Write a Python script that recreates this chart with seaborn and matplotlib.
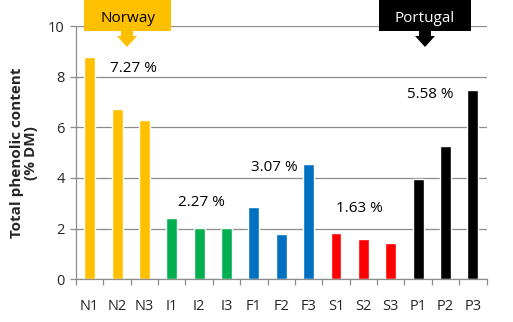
import matplotlib
matplotlib.use("Agg")
import matplotlib.pyplot as plt
import seaborn as sns
import pandas as pd
from matplotlib.patches import Polygon

categories = ["N1", "N2", "N3", "I1", "I2", "I3", "F1", "F2", "F3",
              "S1", "S2", "S3", "P1", "P2", "P3"]
groups = ["N"] * 3 + ["I"] * 3 + ["F"] * 3 + ["S"] * 3 + ["P"] * 3
values = [8.78, 6.74, 6.30, 2.43, 2.02, 2.02, 2.87, 1.79, 4.55,
          1.84, 1.60, 1.45, 3.97, 5.27, 7.49]
group_colors = {"N": "#FFC000", "I": "#00B050", "F": "#0070C0", "S": "#FF0000", "P": "#000000"}
mean_labels = ["7.27 %", "2.27 %", "3.07 %", "1.63 %", "5.58 %"]
mean_label_x = [1.6, 4.1, 6.73, 9.84, 12.43]
mean_label_y = [8.34, 3.05, 4.43, 2.78, 7.31]
y_ticks = [0, 2, 4, 6, 8, 10]

df = pd.DataFrame({"cat": categories, "grp": groups, "val": values})

sns.set_theme(style="white")
plt.rcParams["font.family"] = ["Open Sans", "DejaVu Sans"]

fig = plt.figure(figsize=(5.13, 3.22), dpi=100)
ax = fig.add_axes([76 / 513, 1 - 279.3 / 322, (486.5 - 76) / 513, (279.3 - 26) / 322])

sns.barplot(data=df, x="cat", y="val", hue="grp", palette=group_colors,
            dodge=False, width=0.4, legend=False, ax=ax, saturation=1)

ax.set_ylim(0, 10)
ax.set_xlim(-0.5, len(categories) - 0.5)
ax.set_yticks(y_ticks)
ax.yaxis.grid(True, color="#8c8c8c", linewidth=0.9)
ax.set_axisbelow(True)
for s in ["top", "right"]:
    ax.spines[s].set_visible(False)
for s in ["left", "bottom"]:
    ax.spines[s].set_color("#8c8c8c")
    ax.spines[s].set_linewidth(0.9)

ax.set_xticks(range(len(categories)))
ax.set_xticklabels(categories)
ax.set_xticks([i - 0.5 for i in range(len(categories) + 1)], minor=True)
ax.tick_params(axis="x", which="major", length=0, pad=14, labelsize=10.5)
ax.tick_params(axis="x", which="minor", length=4, color="#8c8c8c", width=0.9, direction="out", bottom=True)
ax.tick_params(axis="y", which="major", length=4, color="#8c8c8c", width=0.9, direction="out", left=True, labelsize=10.5, pad=4)
ax.set_xlabel("")
ax.set_ylabel("Total phenolic content\n(% DM)", fontsize=11, fontweight="bold", linespacing=1.05, labelpad=7)

for t, x, y in zip(mean_labels, mean_label_x, mean_label_y):
    ax.text(x, y, t, ha="center", va="center", fontsize=11, color="#000000")

# country boxes and arrows (figure pixel coordinates)
def px(x, y):
    return (x / 100, (322 - y) / 100)

def box_arrow(x0, x1, cx, color, label, tcolor):
    box = Polygon([px(x0, 0), px(x1, 0), px(x1, 31), px(x0, 31)], closed=True,
                  transform=fig.dpi_scale_trans, facecolor=color, edgecolor="none")
    fig.patches.append(box)
    arr = Polygon([px(cx - 6, 31), px(cx + 6, 31), px(cx + 6, 36), px(cx + 10, 36),
                   px(cx, 47), px(cx - 10, 36), px(cx - 6, 36)], closed=True,
                  transform=fig.dpi_scale_trans, facecolor=color, edgecolor="none")
    fig.patches.append(arr)
    fig.text((x0 + x1) / 2 / 513, 1 - 18 / 322, label, ha="center", va="center",
             fontsize=11, color=tcolor)

box_arrow(84, 171, 127, "#FFC000", "Norway", "#000000")
box_arrow(379, 471, 425, "#000000", "Portugal", "#FFFFFF")

fig.savefig("out.png", dpi=100)
